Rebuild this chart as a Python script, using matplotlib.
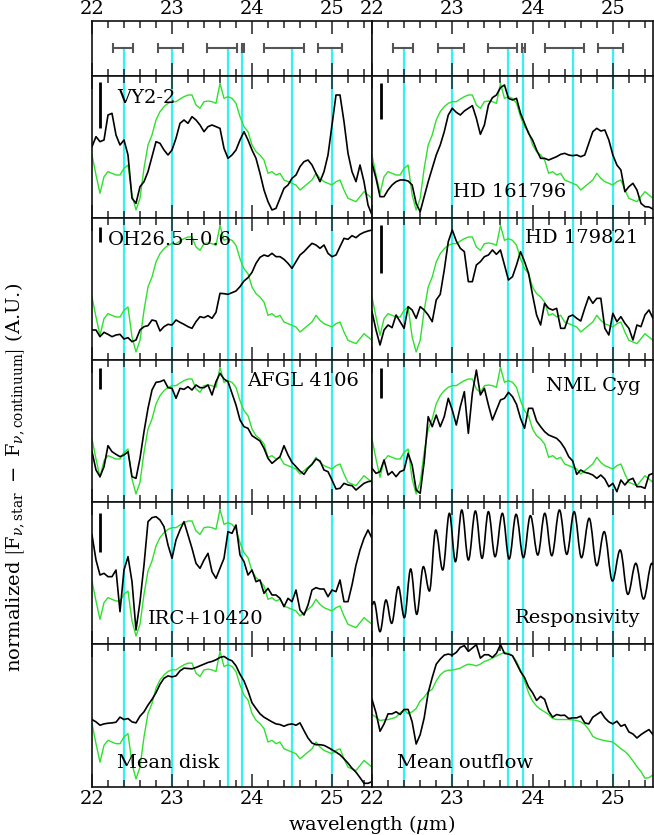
import numpy as np
import matplotlib
matplotlib.use("Agg")
import matplotlib.pyplot as plt
from matplotlib.ticker import MultipleLocator, FixedLocator
from matplotlib.path import Path
from matplotlib.patches import PathPatch

plt.rcParams['font.family'] = ['DejaVu Serif']
plt.rcParams['mathtext.fontset'] = 'dejavuserif'

# ---------------- data ----------------
WAVE = np.linspace(22.0, 25.5, 71)

FEATURES = [22.4, 23.0, 23.7, 23.88, 24.5, 25.0]
FEAT_LO = [22.26, 22.82, 23.44, 23.87, 24.155, 24.82]
FEAT_HI = [22.51, 23.14, 23.81, 23.90, 24.645, 25.13]

TEMPLATE = [189, 129, 74, 124, 139, 134, 129, 129, 149, 159,
            69, 24, 59, 149, 219, 249, 294, 319, 334, 344,
            349, 349, 357, 364, 369, 369, 339, 329, 349, 351,
            349, 344, 404, 359, 364, 359, 344, 304, 274, 259,
            219, 199, 189, 174, 134, 139, 129, 134, 114, 109,
            104, 99, 84, 94, 104, 114, 134, 119, 109, 104,
            99, 109, 114, 84, 59, 54, 49, 64, 79, 69, 59]

VY2_2 = [214, 244, 229, 234, 309, 314, 249, 219, 234, 189,
         59, 44, 94, 109, 139, 184, 229, 224, 204, 189,
         204, 239, 284, 294, 284, 304, 294, 279, 259, 274,
         279, 274, 269, 209, 179, 189, 204, 234, 259, 234,
         204, 179, 134, 84, 49, 24, 29, 59, 89, 99,
         119, 129, 154, 169, 174, 159, 134, 109, 139, 189,
         279, 369, 369, 289, 194, 139, 109, 159, 109, 39, 9]

HD161796 = [164, 119, 64, 64, 84, 99, 109, 114, 114, 111,
            99, 44, 19, 64, 109, 149, 189, 219, 259, 309,
            329, 317, 309, 321, 329, 337, 299, 251, 279, 339,
            361, 369, 391, 399, 359, 354, 359, 314, 284, 254,
            234, 204, 179, 179, 174, 179, 184, 191, 194, 189,
            187, 189, 184, 189, 224, 259, 269, 261, 264, 234,
            189, 159, 144, 79, 94, 104, 84, 44, 34, 33, 27]

OH26 = [90, 90, 70, 83, 77, 70, 75, 77, 63, 67,
        55, 60, 90, 100, 103, 120, 117, 87, 100, 107,
        105, 120, 113, 107, 100, 95, 115, 130, 127, 133,
        125, 143, 200, 199, 197, 202, 207, 220, 237, 247,
        263, 290, 308, 315, 311, 320, 310, 310, 302, 290,
        275, 295, 315, 325, 338, 350, 345, 335, 345, 320,
        310, 315, 340, 365, 362, 373, 367, 377, 383, 387, 390]

HD179821 = [145, 90, 45, 90, 105, 97, 135, 115, 95, 160,
            150, 125, 160, 150, 135, 115, 180, 197, 270, 355,
            390, 357, 335, 325, 235, 235, 285, 295, 310, 315,
            330, 317, 330, 285, 240, 250, 285, 325, 295, 260,
            195, 135, 105, 170, 155, 150, 155, 95, 95, 130,
            135, 125, 117, 155, 190, 170, 185, 185, 95, 75,
            140, 115, 130, 110, 95, 60, 105, 100, 135, 150, 125]

AFGL4106 = [151, 96, 76, 106, 169, 151, 143, 136, 141, 151,
            76, 71, 131, 211, 281, 336, 359, 361, 366, 343,
            341, 311, 341, 338, 346, 336, 351, 343, 343, 351,
            321, 361, 386, 369, 361, 326, 291, 246, 226, 221,
            199, 191, 183, 161, 131, 116, 126, 136, 169, 141,
            119, 106, 93, 83, 101, 113, 129, 123, 96, 91,
            66, 39, 41, 56, 51, 49, 36, 46, 56, 61, 63]

NMLCYG = [101, 86, 91, 126, 81, 91, 76, 91, 96, 146,
          111, 36, 26, 121, 256, 226, 261, 226, 256, 311,
          276, 231, 286, 331, 206, 326, 396, 321, 341, 291,
          246, 276, 306, 311, 329, 316, 293, 251, 221, 281,
          281, 243, 226, 211, 201, 196, 191, 179, 161, 136,
          123, 83, 96, 89, 86, 81, 71, 81, 69, 46,
          56, 31, 66, 51, 66, 71, 46, 46, 41, 81, 86]

IRC10420 = [327, 252, 207, 212, 202, 202, 222, 97, 222, 262,
            187, 42, 127, 237, 367, 379, 382, 372, 352, 297,
            257, 312, 342, 367, 327, 287, 242, 227, 252, 272,
            217, 197, 227, 257, 337, 332, 357, 267, 247, 207,
            222, 187, 192, 152, 167, 147, 147, 137, 112, 137,
            127, 162, 102, 87, 117, 162, 169, 165, 165, 142,
            162, 157, 192, 127, 127, 177, 237, 282, 317, 342, 317]

MEAN_DISK = [201, 194, 184, 188, 190, 191, 193, 208, 201, 204,
             194, 191, 211, 224, 244, 261, 281, 306, 324, 331,
             328, 331, 346, 354, 353, 352, 356, 361, 366, 371,
             374, 379, 386, 389, 381, 376, 361, 336, 316, 286,
             251, 234, 218, 208, 201, 194, 188, 186, 181, 186,
             188, 184, 191, 168, 146, 131, 126, 126, 124, 118,
             111, 104, 96, 84, 71, 56, 44, 28, 11, 11, 16]

MEAN_OUTFLOW = [261, 221, 166, 188, 218, 218, 224, 216, 231, 231,
                194, 128, 156, 206, 281, 326, 366, 381, 393, 396,
                393, 401, 416, 421, 404, 414, 424, 384, 394, 394,
                386, 398, 424, 398, 396, 391, 368, 344, 326, 298,
                281, 258, 270, 261, 226, 208, 216, 213, 214, 204,
                206, 206, 211, 191, 188, 208, 216, 224, 206, 194,
                188, 196, 181, 186, 164, 158, 146, 156, 164, 171, 156]

MEAN_OUTFLOW_TEMPLATE = [216, 208, 198, 200, 201, 204, 208, 221, 230, 218,
                         224, 234, 256, 268, 284, 291, 316, 334, 344, 348,
                         348, 351, 354, 361, 366, 364, 361, 366, 374, 378,
                         384, 390, 396, 401, 398, 391, 374, 348, 316, 281,
                         256, 241, 231, 224, 216, 204, 201, 201, 201, 201,
                         200, 198, 194, 186, 171, 151, 144, 141, 138, 136,
                         134, 124, 114, 106, 94, 78, 61, 46, 26, 28, 36]

# responsivity: successive extrema of the fringe pattern
RESP_WAVE = [22.000, 22.025, 22.100, 22.174, 22.245, 22.328, 22.403, 22.482,
             22.557, 22.640, 22.715, 22.794, 22.881, 22.964, 23.039, 23.118,
             23.201, 23.288, 23.371, 23.450, 23.533, 23.624, 23.708, 23.795,
             23.886, 23.973, 24.065, 24.152, 24.239, 24.335, 24.426, 24.518,
             24.609, 24.705, 24.800, 24.892, 24.995, 25.091, 25.187, 25.286,
             25.382, 25.486, 25.500]
RESPONSIVITY = [117, 127, 37, 132, 62, 172, 79, 225,
                89, 232, 159, 342, 222, 392, 247, 402,
                252, 399, 257, 397, 262, 392, 255, 389,
                259, 385, 267, 392, 265, 402, 269, 397,
                259, 377, 235, 337, 189, 282, 149, 242,
                135, 242, 239]

# panel: (name, black series, green series, label pos, ha, scale bar)
PANELS = [
    [("VY2-2", VY2_2, TEMPLATE, (0.089, 0.845), 'left', (0.634, 0.958)),
     ("HD 161796", HD161796, TEMPLATE, (0.287, 0.183), 'left', (0.697, 0.951))],
    [("OH26.5+0.6", OH26, TEMPLATE, (0.056, 0.845), 'left', (0.831, 0.937)),
     ("HD 179821", HD179821, TEMPLATE, (0.947, 0.861), 'right', (0.613, 0.951))],
    [("AFGL 4106", AFGL4106, TEMPLATE, (0.954, 0.852), 'right', (0.796, 0.944)),
     ("NML Cyg", NMLCYG, TEMPLATE, (0.954, 0.819), 'right', (0.732, 0.944))],
    [("IRC+10420", IRC10420, TEMPLATE, (0.20, 0.176), 'left', (0.648, 0.923)),
     ("Responsivity", None, None, (0.954, 0.185), 'right', None)],
    [("Mean disk", MEAN_DISK, TEMPLATE, (0.088, 0.17), 'left', None),
     ("Mean outflow", MEAN_OUTFLOW, MEAN_OUTFLOW_TEMPLATE, (0.089, 0.17), 'left', None)],
]

# ---------------- style ----------------
W, H = 654, 835
fig = plt.figure(figsize=(W / 100, H / 100), dpi=100)

CYAN = '#33f2f2'
GREEN = '#2fe02f'
FS = 14
col_x = [(92, 372), (372, 653)]
row_y = [76, 218, 360, 502, 644, 787]


def px_rect(x0, x1, y0, y1):
    return [x0 / W, 1 - y1 / H, (x1 - x0) / W, (y1 - y0) / H]


def style_axis(ax, labeltop=False, labelbottom=False):
    ax.set_xlim(22.0, 25.5)
    ax.xaxis.set_major_locator(FixedLocator([22, 23, 24, 25]))
    ax.xaxis.set_minor_locator(MultipleLocator(0.2))
    ax.tick_params(axis='x', which='both', direction='in', top=True, bottom=True,
                   labeltop=labeltop, labelbottom=labelbottom, labelsize=FS,
                   color='#222222')
    ax.tick_params(axis='x', which='major', length=9.5, width=1.1, pad=2)
    ax.tick_params(axis='x', which='minor', length=4.8, width=1.1)
    ax.set_yticks([])
    for s in ax.spines.values():
        s.set_linewidth(1.2)
        s.set_color('#111111')


def smooth_path(xs, ys, k=0.36):
    """Bezier path through the given extrema with flat tangents."""
    verts = [(xs[0], ys[0])]
    codes = [Path.MOVETO]
    for i in range(1, len(xs)):
        dx = xs[i] - xs[i - 1]
        verts += [(xs[i - 1] + k * dx, ys[i - 1]), (xs[i] - k * dx, ys[i]), (xs[i], ys[i])]
        codes += [Path.CURVE4] * 3
    return Path(verts, codes)


# top panels with feature ranges
for c in range(2):
    ax = fig.add_axes(px_rect(col_x[c][0], col_x[c][1], 21, 76))
    style_axis(ax, labeltop=True)
    ax.set_ylim(0, 1)
    for f, lo, hi in zip(FEATURES, FEAT_LO, FEAT_HI):
        ax.plot([f, f], [0, 0.51], color=CYAN, lw=1.6, zorder=1)
        ax.errorbar([f], [0.51], xerr=[[f - lo], [hi - f]], fmt='none',
                    ecolor='#555555', elinewidth=1.5, capsize=3.5, capthick=1.5,
                    zorder=2)

# main panels
for r in range(5):
    for c in range(2):
        name, black, green, lpos, ha, bar = PANELS[r][c]
        ax = fig.add_axes(px_rect(col_x[c][0], col_x[c][1], row_y[r], row_y[r + 1]))
        style_axis(ax, labelbottom=(r == 4))
        ax.set_ylim(0, 426)
        for f in FEATURES:
            ax.axvline(f, color=CYAN, lw=1.6, zorder=1)
        if name == "Responsivity":
            ax.add_patch(PathPatch(smooth_path(RESP_WAVE, RESPONSIVITY), fill=False,
                                   edgecolor='black', lw=1.2, zorder=3))
        else:
            ax.plot(WAVE, green, color=GREEN, lw=1.0, zorder=2)
            ax.plot(WAVE, black, color='black', lw=1.2, zorder=3)
        ax.text(lpos[0], lpos[1], name, transform=ax.transAxes, ha=ha, va='center',
                fontsize=FS, zorder=5)
        if bar is not None:
            bx = 0.029 if c == 0 else 0.032
            ax.plot([bx, bx], [bar[0], bar[1]], transform=ax.transAxes,
                    color='black', lw=2.0, solid_capstyle='butt', zorder=5)

fig.text(372 / W, 1 - 824 / H, r"wavelength ($\mu$m)", ha='center', va='center',
         fontsize=FS)
fig.text(15 / W, 1 - 477 / H,
         r"normalized $\left[\mathrm{F}_{\nu,\mathrm{star}}\ -\ \mathrm{F}_{\nu,\mathrm{continuum}}\right]$ (A.U.)",
         ha='center', va='center', rotation=90, fontsize=FS)

fig.savefig("out.png", dpi=100)
